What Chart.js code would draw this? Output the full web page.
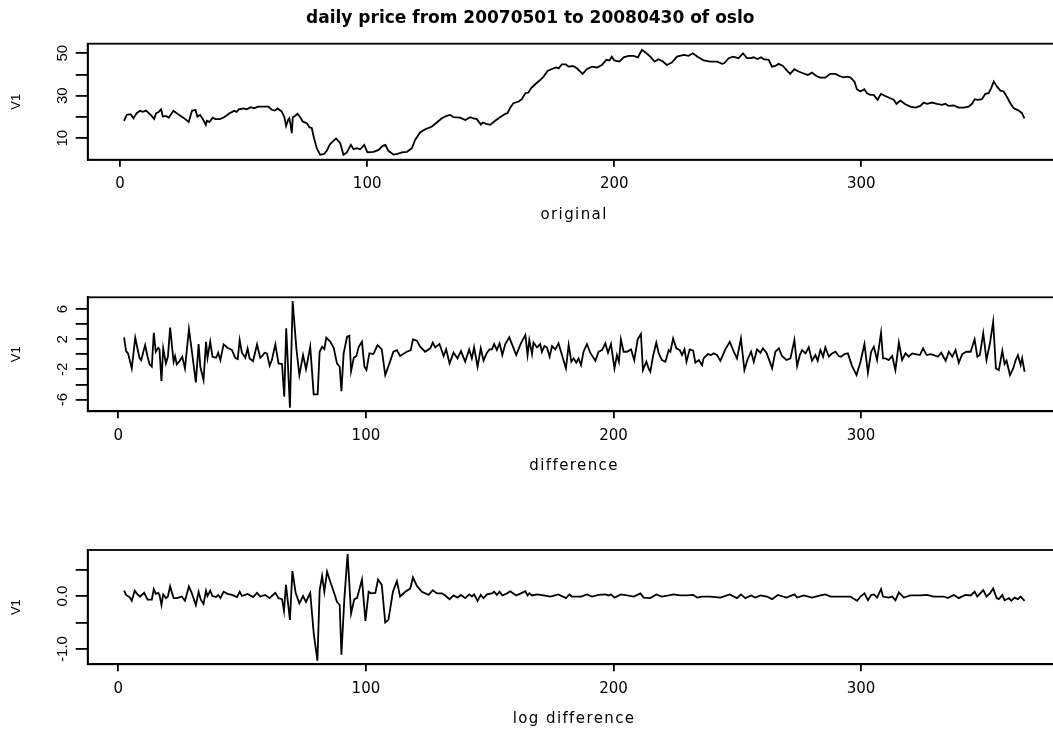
<!DOCTYPE html>
<html>
<head>
<meta charset="utf-8">
<title>daily price from 20070501 to 20080430 of oslo</title>
<script src="https://cdn.jsdelivr.net/npm/chart.js"></script>
<style>
    html, body { margin: 0; padding: 0; background: #fff; overflow: hidden; }
    #page { position: relative; width: 1053px; height: 733px; overflow: hidden; background: #fff; }
    #page canvas { position: absolute; left: 0; }
</style>
</head>
<body>
<div id="page">
    <canvas id="priceChart" width="1080" height="245" style="top:0px"></canvas>
    <canvas id="diffChart" width="1080" height="245" style="top:245px"></canvas>
    <canvas id="logDiffChart" width="1080" height="243" style="top:490px"></canvas>
</div>
<script>
const mainTitle = 'daily price from 20070501 to 20080430 of oslo';
const yTitle = 'V1';

const xTicks = [0, 100, 200, 300];
const xTickLabels = ['0', '100', '200', '300'];

// original series
const priceX = [
    1.6, 2.7, 4.3, 5.4, 6.7, 8.1, 9.2, 10.5, 12.4, 13.8,
    14.6, 15.5, 16.6, 17.3, 18.6, 19.7, 21.6, 23.2, 25.6, 27.8,
    29.1, 30.5, 31.3, 32.4, 33.7, 34.7, 35.1, 36.2, 37.5, 38.6,
    40.5, 42.1, 44.3, 46.2, 47.2, 48.0, 49.9, 51.3, 52.9, 54.2,
    55.9, 58.0, 60.0, 61.4, 62.7, 63.7, 65.4, 66.5, 67.2, 68.0,
    68.5, 69.1, 69.5, 69.9, 70.8, 71.8, 72.9, 74.0, 75.6, 76.6,
    77.6, 78.5, 79.6, 81.0, 82.6, 83.7, 85.0, 87.4, 89.1, 90.4,
    91.8, 93.4, 94.5, 95.8, 97.2, 98.8, 100.1, 102.6, 104.6, 106.3,
    107.4, 108.5, 110.7, 112.3, 114.0, 116.1, 118.1, 119.4, 121.4, 123.5,
    126.2, 128.2, 130.2, 132.2, 133.6, 134.9, 137.6, 139.7, 141.7, 143.0,
    144.4, 146.0, 146.8, 148.2, 149.8, 151.8, 153.8, 155.9, 156.8, 157.9,
    159.2, 161.3, 162.6, 164.0, 165.3, 166.3, 168.0, 170.0, 171.4, 173.0,
    174.8, 176.5, 177.5, 178.8, 180.4, 181.5, 183.3, 184.9, 187.2, 188.9,
    191.0, 193.0, 195.0, 196.8, 198.1, 199.0, 200.0, 202.1, 203.8, 205.8,
    207.8, 209.6, 211.2, 212.5, 214.6, 216.3, 217.9, 219.7, 221.3, 223.3,
    225.4, 228.1, 230.1, 231.8, 233.7, 236.2, 238.9, 241.6, 243.6, 244.5,
    246.3, 248.0, 250.3, 252.1, 253.7, 255.3, 256.4, 258.0, 259.4, 260.4,
    262.5, 263.8, 265.2, 266.5, 268.3, 269.9, 271.2, 272.9, 274.6, 276.4,
    278.3, 280.0, 281.8, 283.4, 285.4, 287.4, 289.5, 291.2, 292.8, 294.2,
    295.5, 297.2, 298.2, 299.6, 301.2, 302.3, 303.6, 305.0, 306.6, 307.9,
    309.7, 311.7, 313.1, 314.2, 315.8, 317.8, 319.8, 321.9, 323.9, 325.2,
    326.6, 328.6, 330.6, 332.6, 334.0, 335.3, 337.4, 339.4, 341.4, 343.4,
    344.8, 345.9, 347.1, 348.8, 350.2, 351.5, 352.5, 353.6, 354.9, 356.3,
    357.6, 359.0, 360.3, 361.7, 363.7, 365.0, 366.0
];
const priceY = [
    18.2, 21.0, 21.3, 19.4, 21.8, 22.9, 22.4, 23.0, 21.0, 19.1,
    21.8, 22.2, 23.6, 20.2, 20.5, 19.6, 22.9, 21.5, 19.7, 17.7,
    22.9, 23.4, 20.2, 21.0, 18.6, 16.3, 18.2, 17.7, 19.7, 19.0,
    19.0, 19.9, 21.8, 22.9, 22.4, 23.6, 24.0, 23.6, 24.6, 24.1,
    24.9, 24.9, 24.9, 23.4, 23.0, 24.0, 22.6, 19.9, 15.8, 18.6,
    19.4, 15.8, 12.4, 19.9, 20.5, 21.5, 19.9, 17.8, 17.1, 15.2,
    14.7, 10.0, 5.3, 2.2, 2.6, 4.2, 7.3, 9.9, 7.7, 2.2,
    3.3, 6.9, 4.8, 5.3, 4.8, 6.9, 3.4, 3.6, 4.5, 6.4,
    6.9, 4.2, 2.3, 2.6, 3.3, 3.6, 5.3, 9.2, 12.7, 14.2,
    15.5, 17.4, 19.4, 20.5, 21.0, 19.9, 19.7, 18.6, 19.9, 19.3,
    19.0, 16.4, 17.4, 16.8, 16.3, 18.2, 19.9, 21.5, 21.8, 24.4,
    26.5, 27.3, 28.4, 31.2, 31.5, 33.5, 35.4, 37.4, 39.0, 41.7,
    42.6, 43.3, 42.9, 44.8, 44.8, 43.7, 44.0, 42.9, 40.3, 42.5,
    43.7, 43.3, 44.5, 46.9, 46.6, 48.4, 46.6, 46.1, 48.1, 48.8,
    48.8, 48.1, 51.6, 50.5, 48.4, 46.1, 47.2, 46.1, 44.5, 45.6,
    48.4, 49.2, 48.8, 50.0, 48.4, 46.6, 46.1, 46.1, 45.0, 45.3,
    47.7, 48.4, 47.7, 50.0, 47.7, 47.7, 48.1, 47.3, 48.1, 47.2,
    46.9, 43.7, 44.0, 45.0, 44.0, 41.8, 40.3, 42.5, 41.4, 40.6,
    39.8, 40.9, 39.3, 38.5, 38.5, 40.3, 40.3, 39.3, 38.7, 39.0,
    38.7, 36.7, 33.1, 32.0, 33.1, 31.2, 30.4, 30.4, 28.1, 30.9,
    29.9, 28.8, 28.1, 26.2, 27.7, 26.0, 24.9, 24.4, 25.2, 26.8,
    26.2, 26.8, 26.2, 25.7, 26.2, 25.2, 25.4, 24.4, 24.4, 24.9,
    26.2, 28.4, 28.1, 28.4, 30.9, 31.2, 33.5, 36.7, 34.3, 32.4,
    32.0, 29.3, 26.5, 24.1, 23.0, 21.8, 19.4
];
const priceTicks = [10, 20, 30, 40, 50];
const priceTickLabels = ['10', '', '30', '', '50'];

// difference series
const diffX = [
    2.3, 3.1, 3.9, 5.4, 6.8, 8.5, 9.2, 10.8, 11.8, 12.6,
    13.5, 14.3, 15.1, 16.1, 16.6, 17.4, 18.1, 19.2, 20.0, 20.9,
    22.3, 22.9, 23.6, 24.7, 25.8, 26.9, 28.5, 29.7, 31.3, 32.4,
    33.1, 34.4, 35.4, 36.0, 37.1, 38.0, 39.5, 40.3, 41.2, 42.5,
    44.1, 45.9, 47.2, 48.2, 49.0, 49.9, 51.3, 52.2, 53.0, 54.4,
    56.0, 57.3, 58.4, 59.1, 60.0, 61.1, 62.0, 63.4, 64.7, 66.1,
    67.0, 67.8, 69.3, 70.4, 71.9, 73.1, 74.6, 75.8, 77.5, 78.9,
    80.5, 81.3, 82.3, 83.2, 84.0, 85.6, 87.0, 88.3, 89.4, 90.1,
    91.0, 92.4, 93.3, 94.0, 95.1, 96.1, 97.1, 98.4, 99.4, 100.2,
    101.4, 103.0, 104.7, 106.4, 107.8, 109.5, 111.1, 112.5, 113.8, 116.5,
    118.1, 119.0, 120.6, 121.9, 123.9, 126.0, 127.0, 128.0, 129.7, 131.4,
    132.4, 133.8, 135.4, 137.0, 138.4, 140.1, 141.7, 142.8, 143.7, 145.1,
    146.4, 147.5, 148.9, 149.9, 150.9, 151.8, 152.9, 154.0, 155.1, 156.3,
    157.9, 159.4, 160.7, 162.6, 164.4, 165.3, 166.0, 167.1, 167.7, 169.1,
    170.4, 171.1, 172.1, 173.1, 174.2, 175.2, 176.5, 177.8, 179.2, 180.8,
    181.9, 183.0, 183.9, 185.0, 185.9, 186.9, 187.9, 189.3, 190.6, 192.7,
    194.0, 195.4, 196.7, 197.8, 199.0, 200.4, 201.4, 202.2, 203.0, 204.1,
    205.5, 207.1, 208.4, 209.8, 211.1, 211.9, 213.3, 214.2, 214.9, 216.0,
    217.3, 218.3, 219.6, 221.0, 222.3, 223.0, 224.1, 225.4, 226.8, 227.7,
    228.7, 229.5, 230.8, 232.2, 233.1, 234.5, 235.8, 236.4, 238.1, 239.4,
    240.5, 241.8, 243.2, 245.2, 247.0, 248.6, 249.9, 251.5, 252.9, 254.2,
    255.6, 256.7, 258.0, 259.4, 260.4, 261.8, 262.7, 264.1, 265.4, 266.8,
    268.1, 269.9, 271.5, 273.1, 274.2, 275.3, 276.2, 277.6, 278.9, 280.2,
    281.6, 282.5, 283.6, 284.7, 285.6, 287.0, 288.3, 289.7, 291.0, 292.0,
    293.3, 294.7, 296.4, 298.2, 299.8, 301.4, 302.8, 304.1, 305.2, 306.5,
    308.1, 308.9, 309.9, 311.2, 312.6, 313.9, 315.3, 316.6, 318.0, 319.3,
    320.7, 322.0, 323.8, 325.1, 326.5, 328.1, 329.4, 331.1, 332.4, 334.2,
    335.5, 336.9, 338.2, 339.5, 340.9, 342.6, 344.3, 345.9, 347.0, 348.0,
    349.4, 350.7, 352.1, 353.4, 354.5, 355.7, 357.1, 358.0, 358.8, 360.2,
    361.5, 362.5, 363.4, 364.5, 365.1, 366.1
];
const diffY = [
    2.24, 0.43, 0.12, -1.87, 2.2, -0.46, -0.77, 1.23, -0.32, -1.34,
    -1.65, 2.86, 0.34, 0.87, 0.65, -3.55, 0.78, -1.21, -0.32, 3.53,
    -0.99, -0.24, -1.34, -0.9, -0.32, -1.87, 3.35, 0.34, -3.73, 1.36,
    -1.65, -3.42, 1.67, -0.46, 1.67, -0.32, -0.46, 0.21, -0.77, 1.31,
    0.87, 0.56, -0.46, -0.63, 1.89, 0.21, -0.46, 0.78, -0.55, -0.9,
    1.31, -0.46, -0.1, 0.21, 0.12, -1.52, -0.77, 1.31, -1.21, -1.3,
    -5.63, 3.44, -7.09, 7.07, 0.78, -2.76, -0.1, -1.96, 1.0, -5.32,
    -5.32, 0.34, 1.0, 0.7, 2.2, 1.67, 0.87, -1.21, -1.65, -4.88,
    0.12, 2.33, 2.46, -2.23, -0.46, -0.24, 1.0, 1.67, -1.65, -2.09,
    0.12, 0.03, 1.23, 0.65, -2.75, -1.2, 0.34, 0.56, -0.23, 0.34,
    0.56, 1.98, 1.8, 1.01, 0.34, 0.79, 1.54, 0.92, 1.36, -0.23,
    0.65, -1.2, 0.21, -0.54, 0.43, -0.98, 0.65, -0.54, 0.92, -1.65,
    0.79, -0.85, 0.21, 0.65, 0.65, 1.36, 0.56, 1.45, -0.1, 1.36,
    2.25, 1.01, -0.1, 1.45, 2.56, -0.1, 1.89, 0.03, 1.54, 0.92,
    1.36, 0.34, 1.1, 0.92, -0.32, 1.1, 0.65, 1.45, -0.1, -1.87,
    1.23, -0.98, -0.54, -1.12, -0.54, -1.43, 0.34, 1.36, 0.21, -0.85,
    0.34, 0.56, 1.45, 0.21, 1.36, -1.87, -0.1, -0.98, 1.98, 0.34,
    0.34, 0.65, -0.76, 1.98, 2.69, -2.09, -0.98, -1.87, -2.31, -0.23,
    1.54, 0.12, -0.76, -0.98, 0.56, 0.34, 2.1, 0.79, 0.56, -0.1,
    0.65, -0.98, 0.65, 0.48, -1.12, -0.76, -1.43, -0.54, 0.03, -0.1,
    0.12, -0.1, -0.85, 0.65, 1.67, 0.34, -0.54, 2.1, -2.09, -0.67,
    0.34, -0.98, 0.65, 0.21, 0.79, 0.21, -0.54, -1.87, 0.34, 0.79,
    -0.23, -0.76, -0.54, 1.89, -1.56, -0.1, 0.56, 0.12, 0.92, -0.85,
    -0.1, -0.85, 0.56, -0.32, 0.92, -0.32, 0.12, 0.34, -0.23, -0.32,
    0.03, 0.12, -1.56, -2.75, -0.98, 1.36, -2.44, 0.34, 1.01, -0.76,
    2.87, -0.54, -0.54, -0.76, -0.23, -2.09, 1.54, -0.76, 0.12, -0.32,
    0.12, 0.03, -0.1, 0.79, -0.1, 0.03, -0.1, -0.32, 0.21, -0.85,
    0.34, -0.32, 0.56, -1.12, 0.03, 0.34, 0.34, 1.98, -0.32, -0.1,
    2.78, -0.76, 1.45, 4.33, -1.87, -2.09, 0.48, -1.29, -0.85, -2.75,
    -1.87, -0.76, -0.1, -1.43, -0.54, -2.31
];
const diffTicks = [-6, -4, -2, 0, 2, 4, 6];
const diffTickLabels = ['-6', '', '-2', '', '2', '', '6'];

// log difference series
const logDiffX = [
    2.3, 3.1, 4.5, 5.4, 6.6, 7.7, 8.8, 10.4, 11.8, 13.5,
    14.3, 15.1, 16.1, 16.6, 17.4, 18.1, 19.2, 20.0, 20.9, 22.3,
    23.6, 25.6, 26.9, 28.5, 29.7, 31.3, 32.4, 33.3, 34.4, 35.4,
    36.0, 37.1, 38.0, 39.5, 40.3, 41.2, 42.5, 44.1, 45.9, 47.9,
    49.0, 49.9, 52.2, 54.4, 56.0, 57.3, 59.3, 61.1, 62.0, 63.4,
    64.7, 66.1, 66.9, 67.7, 69.3, 70.3, 71.6, 73.1, 74.6, 75.8,
    77.5, 78.9, 80.4, 81.3, 82.3, 83.2, 84.3, 85.6, 87.0, 88.3,
    89.4, 90.1, 91.3, 92.6, 94.0, 95.3, 96.4, 98.4, 99.8, 101.1,
    102.1, 103.8, 104.9, 106.4, 107.8, 109.1, 110.9, 112.5, 113.8, 115.9,
    117.9, 119.0, 120.6, 122.6, 125.3, 127.0, 128.7, 130.7, 132.0, 133.8,
    135.4, 137.0, 138.4, 140.1, 141.7, 142.8, 143.7, 145.1, 146.4, 147.5,
    148.9, 150.9, 151.8, 152.9, 154.0, 155.1, 157.0, 158.3, 160.7, 162.6,
    164.4, 165.3, 166.0, 167.1, 169.1, 171.8, 174.5, 177.8, 180.8, 182.2,
    183.2, 185.0, 186.9, 189.3, 191.3, 194.0, 196.7, 198.1, 199.0, 200.4,
    203.0, 205.5, 208.2, 210.9, 212.2, 214.9, 217.3, 219.6, 222.3, 224.3,
    227.0, 229.7, 232.2, 233.8, 235.8, 239.1, 243.2, 247.0, 248.6, 249.9,
    251.5, 253.3, 255.6, 257.3, 259.4, 262.0, 264.1, 266.4, 269.9, 273.1,
    274.2, 276.9, 280.2, 283.6, 285.6, 287.7, 291.6, 295.7, 298.4, 299.8,
    301.4, 302.8, 304.1, 305.2, 306.5, 308.1, 308.9, 311.2, 312.6, 313.9,
    315.3, 317.3, 320.0, 324.0, 326.7, 329.4, 333.5, 335.1, 337.5, 339.5,
    342.2, 344.3, 345.9, 347.0, 349.4, 350.7, 352.1, 353.4, 354.8, 355.7,
    357.1, 358.0, 359.8, 360.7, 362.1, 363.4, 364.5, 366.1
];
const logDiffY = [
    0.10, 0.02, -0.02, -0.09, 0.10, 0.03, -0.01, 0.06, -0.07, -0.07,
    0.13, 0.04, 0.06, 0.02, -0.17, 0.03, -0.04, -0.01, 0.18, -0.04,
    -0.04, -0.01, -0.09, 0.18, 0.05, -0.17, 0.08, -0.07, -0.15, 0.10,
    0.00, 0.10, 0.00, -0.02, 0.02, -0.04, 0.08, 0.04, 0.02, -0.02,
    0.08, 0.00, 0.04, -0.02, 0.06, -0.01, 0.02, -0.04, 0.00, 0.06,
    -0.04, -0.06, -0.28, 0.21, -0.45, 0.47, 0.06, -0.14, 0.00, -0.11,
    0.06, -0.70, -1.22, 0.10, 0.38, 0.08, 0.46, 0.27, 0.08, -0.11,
    -0.17, -1.11, -0.04, 0.79, -0.33, -0.06, -0.04, 0.31, -0.47, 0.08,
    0.05, 0.06, 0.31, 0.21, -0.50, -0.45, 0.08, 0.28, -0.01, 0.08,
    0.14, 0.35, 0.19, 0.08, 0.02, 0.11, 0.05, 0.05, 0.01, -0.06,
    0.01, -0.03, 0.02, -0.04, 0.03, -0.01, 0.03, -0.09, 0.02, -0.04,
    0.03, 0.05, 0.08, 0.02, 0.08, 0.01, 0.05, 0.09, 0.01, 0.05,
    0.09, 0.01, 0.05, 0.01, 0.03, 0.01, -0.01, 0.03, -0.04, 0.03,
    -0.01, -0.01, -0.01, 0.03, -0.01, 0.02, 0.03, 0.01, 0.03, -0.03,
    0.03, 0.01, -0.01, 0.05, -0.03, -0.04, 0.03, -0.01, 0.01, 0.03,
    0.01, 0.01, 0.02, -0.03, -0.01, -0.01, -0.03, 0.03, -0.01, -0.04,
    0.03, -0.04, 0.01, -0.03, 0.01, -0.01, -0.06, 0.02, -0.03, 0.03,
    -0.03, 0.01, -0.03, 0.01, 0.03, -0.01, -0.01, -0.01, -0.09, -0.01,
    0.05, -0.08, 0.02, 0.03, -0.03, 0.13, -0.01, -0.03, -0.01, -0.08,
    0.07, -0.03, 0.01, 0.01, 0.02, -0.01, -0.01, -0.04, 0.02, -0.04,
    0.02, 0.01, 0.08, -0.01, 0.11, -0.01, 0.05, 0.14, -0.04, -0.06,
    0.02, -0.08, -0.04, -0.09, -0.03, -0.06, -0.01, -0.09
];
const logDiffTicks = [-1.0, -0.5, 0.0, 0.5];
const logDiffTickLabels = ['-1.0', '', '0.0', ''];

// frame around the plot region + x axis caption underneath
function frameAndCaption(caption) {
    return {
        id: 'frameAndCaption',
        afterDraw(chart) {
            const ctx = chart.ctx;
            const area = chart.chartArea;
            ctx.save();
            ctx.strokeStyle = '#000';
            ctx.lineWidth = 1.8;
            ctx.strokeRect(area.left, area.top, area.right - area.left, area.bottom - area.top);
            ctx.fillStyle = '#000';
            ctx.font = '15px "DejaVu Sans"';
            ctx.letterSpacing = '1.4px';
            ctx.textAlign = 'center';
            ctx.textBaseline = 'middle';
            ctx.fillText(caption, (area.left + area.right) / 2, area.bottom + 55);
            ctx.restore();
        }
    };
}

function drawPanel(canvasId, xs, ys, cfg) {
    const points = xs.map((x, i) => ({ x: x, y: ys[i] }));
    return new Chart(document.getElementById(canvasId), {
        type: 'line',
        data: {
            datasets: [{
                data: points,
                borderColor: '#000',
                borderWidth: 1.8,
                pointRadius: 0,
                tension: 0,
                fill: false
            }]
        },
        options: {
            responsive: false,
            animation: false,
            devicePixelRatio: 1,
            layout: { padding: cfg.padding },
            plugins: {
                legend: { display: false },
                tooltip: { enabled: false },
                title: cfg.title ? {
                    display: true,
                    text: cfg.title,
                    color: '#000',
                    font: { family: 'DejaVu Sans', size: 17, weight: 'bold', lineHeight: 1.2 },
                    padding: { top: 8.8, bottom: 14.5 }
                } : { display: false }
            },
            scales: {
                x: {
                    type: 'linear',
                    min: cfg.xMin,
                    max: cfg.xMax,
                    afterFit: (scale) => { scale.height = 60; },
                    afterBuildTicks: (scale) => { scale.ticks = xTicks.map(v => ({ value: v })); },
                    ticks: {
                        autoSkip: false,
                        maxRotation: 0,
                        padding: 8.5,
                        color: '#000',
                        font: { family: 'DejaVu Sans', size: 15 },
                        callback: (v, i) => xTickLabels[i]
                    },
                    grid: { drawOnChartArea: false, tickLength: 7, color: '#000', lineWidth: 1.8 },
                    border: { color: '#000', width: 1.8 }
                },
                y: {
                    type: 'linear',
                    min: cfg.yMin,
                    max: cfg.yMax,
                    afterFit: (scale) => { scale.width = 87.7; },
                    afterBuildTicks: (scale) => { scale.ticks = cfg.yTicks.map(v => ({ value: v })); },
                    ticks: {
                        autoSkip: false,
                        minRotation: 90,
                        maxRotation: 90,
                        crossAlign: 'center',
                        padding: cfg.yTickPad,
                        color: '#000',
                        font: { family: 'Liberation Sans', size: 15 },
                        callback: (v, i) => cfg.yTickLabels[i]
                    },
                    grid: { drawOnChartArea: false, tickLength: 12, color: '#000', lineWidth: 1.8 },
                    border: { color: '#000', width: 1.8 },
                    title: {
                        display: true,
                        text: yTitle,
                        color: '#000',
                        font: { family: 'Liberation Sans', size: 13, lineHeight: 1.2 },
                        padding: { top: 8.9, bottom: 0 }
                    }
                }
            }
        },
        plugins: [frameAndCaption(cfg.caption)]
    });
}

drawPanel('priceChart', priceX, priceY, {
    title: mainTitle,
    caption: 'original',
    padding: { top: 0, left: 0, right: 19.5, bottom: 25.3 },
    xMin: -13.1, xMax: 380.6,
    yMin: -0.1, yMax: 54.5,
    yTicks: priceTicks, yTickLabels: priceTickLabels, yTickPad: 4.85
});

drawPanel('diffChart', diffX, diffY, {
    caption: 'difference',
    padding: { top: 52.3, left: 0, right: 19.5, bottom: 18.7 },
    xMin: -12.4, xMax: 380.6,
    yMin: -7.56, yMax: 7.56,
    yTicks: diffTicks, yTickLabels: diffTickLabels, yTickPad: 6.5
});

drawPanel('logDiffChart', logDiffX, logDiffY, {
    caption: 'log difference',
    padding: { top: 60, left: 0, right: 19.5, bottom: 8.7 },
    xMin: -12.4, xMax: 380.6,
    yMin: -1.289, yMax: 0.868,
    yTicks: logDiffTicks, yTickLabels: logDiffTickLabels, yTickPad: 0.3
});
</script>
</body>
</html>
